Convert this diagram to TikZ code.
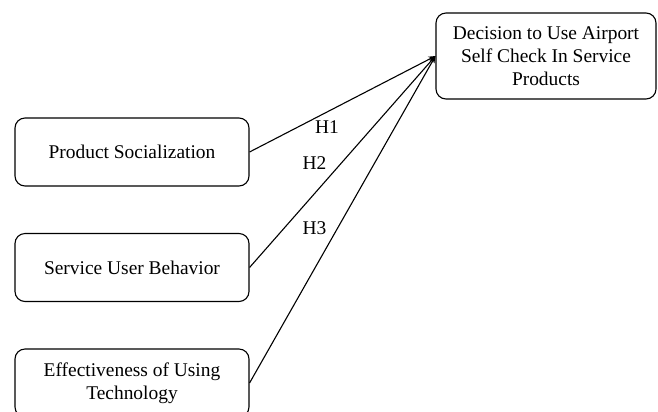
\documentclass[tikz,border=0pt]{standalone}
\usepackage{fontspec}
\setmainfont{Liberation Serif}
\usetikzlibrary{arrows.meta}
\begin{document}
\begin{tikzpicture}[x=1bp,y=-1bp,
  box/.style={draw, line width=1.1bp, rounded corners=10bp, minimum width=234bp, minimum height=68bp, align=center, font=\fontsize{19.5}{23}\selectfont, inner sep=0pt},
  tgt/.style={draw, line width=1.1bp, rounded corners=10bp, minimum width=220bp, minimum height=86bp, align=center, font=\fontsize{19.5}{23}\selectfont, inner sep=0pt},
  conn/.style={line width=1.1bp, -{Stealth[length=7bp,width=5.5bp]}},
  lbl/.style={font=\fontsize{19.5}{23}\selectfont}]
\useasboundingbox (0,0) rectangle (658,411);
\node[tgt] (d) at (546,56) {Decision to Use Airport\\Self Check In Service\\Products};
\node[box] (p) at (132,152) {Product Socialization};
\node[box] (s) at (132,267.5) {Service User Behavior};
\node[box] (e) at (132,383) {Effectiveness of Using\\Technology};
\draw[conn] (p.east) -- (d.west);
\draw[conn] (s.east) -- (d.west);
\draw[conn] (e.east) -- (d.west);
\node[lbl] (h1) at (327,127) {H1};
\node[lbl] (h2) at (314.5,163) {H2};
\node[lbl] (h3) at (314.5,228) {H3};
\end{tikzpicture}
\end{document}
